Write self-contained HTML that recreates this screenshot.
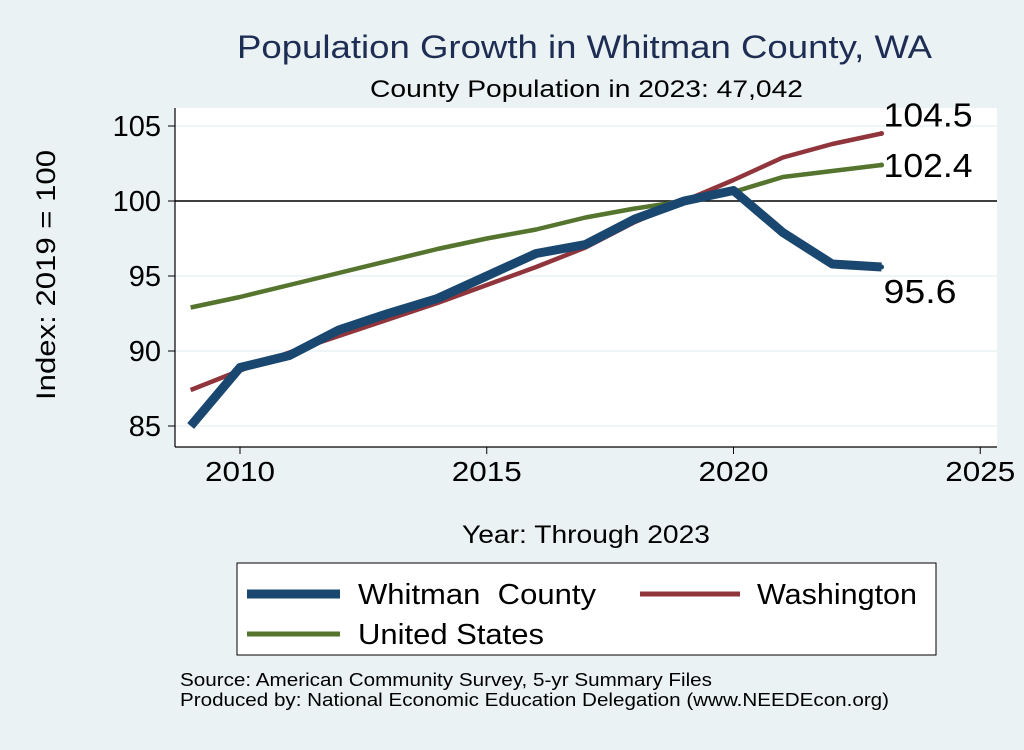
<!DOCTYPE html>
<html><head><meta charset="utf-8"><style>
body{margin:0;background:#eaf2f3;font-family:"Liberation Sans",sans-serif}
svg text{font-family:"Liberation Sans",sans-serif;white-space:pre}
</style></head><body>
<svg width="1024" height="745" xmlns="http://www.w3.org/2000/svg">
<rect width="1024" height="745" fill="#eaf2f3"/>
<text x="237" y="58" font-size="32" fill="#1e2d53" textLength="695" lengthAdjust="spacingAndGlyphs">Population Growth in Whitman County, WA</text>
<text x="370" y="97" font-size="24" fill="#000" textLength="433" lengthAdjust="spacingAndGlyphs">County Population in 2023: 47,042</text>
<rect x="175" y="108" width="822" height="339" fill="#fff"/>
<g id="grid"></g>
<line x1="175" y1="108" x2="175" y2="447" stroke="#000" stroke-width="1.2"/>
<line x1="175" y1="447" x2="997" y2="447" stroke="#000" stroke-width="1.2"/>
<g id="ticks"></g>
<g id="series"></g>
<text transform="translate(55,400) rotate(-90)" font-size="27" textLength="250" lengthAdjust="spacingAndGlyphs">Index: 2019 = 100</text>
<text x="462" y="543" font-size="25" textLength="248" lengthAdjust="spacingAndGlyphs">Year: Through 2023</text>
<g>
<rect x="237" y="563" width="699" height="92" fill="#fff" stroke="#000" stroke-width="1"/>
<line x1="247" y1="594" x2="340" y2="594" stroke="#1a476f" stroke-width="9"/>
<text x="358" y="604" font-size="29" textLength="238" lengthAdjust="spacingAndGlyphs">Whitman  County</text>
<line x1="640" y1="594" x2="740" y2="594" stroke="#90353b" stroke-width="5"/>
<text x="757" y="604" font-size="29" textLength="160" lengthAdjust="spacingAndGlyphs">Washington</text>
<line x1="247" y1="634" x2="340" y2="634" stroke="#55752f" stroke-width="5"/>
<text x="358" y="644" font-size="29" textLength="186" lengthAdjust="spacingAndGlyphs">United States</text>
</g>
<text x="180" y="686" font-size="18" textLength="532" lengthAdjust="spacingAndGlyphs">Source: American Community Survey, 5-yr Summary Files</text>
<text x="180" y="706" font-size="18" textLength="709" lengthAdjust="spacingAndGlyphs">Produced by: National Economic Education Delegation (www.NEEDEcon.org)</text>
</svg>
<script>
const years=[2009,2010,2011,2012,2013,2014,2015,2016,2017,2018,2019,2020,2021,2022,2023];
const whitman=[85.0,88.9,89.7,91.4,92.5,93.5,95.0,96.5,97.1,98.8,100.0,100.7,97.9,95.8,95.6];
const washington=[87.4,88.7,89.9,91.0,92.1,93.2,94.4,95.6,96.9,98.6,100.0,101.4,102.9,103.8,104.5];
const us=[92.9,93.6,94.4,95.2,96.0,96.8,97.5,98.1,98.9,99.5,100.0,100.6,101.6,102.0,102.4];
const xTicks=[2010,2015,2020,2025];
const yTicks=[85,90,95,100,105];
const NS="http://www.w3.org/2000/svg";
const X=y=>240+(y-2010)*49.35;
const Y=v=>201-(v-100)*15;
function mk(t,a,p){const e=document.createElementNS(NS,t);for(const k in a)e.setAttribute(k,a[k]);p.appendChild(e);return e;}
const grid=document.getElementById('grid'),ticks=document.getElementById('ticks'),ser=document.getElementById('series');
yTicks.forEach(v=>{
 const g=mk('line',{x1:175,x2:997,y1:Y(v),y2:Y(v),stroke:v===100?'#000':'#eaf2f3','stroke-width':1.5},grid);
 
 
 mk('line',{x1:168,x2:175,y1:Y(v),y2:Y(v),stroke:'#000'},ticks);
 const t=mk('text',{x:161,y:Y(v)+10,'font-size':29,'text-anchor':'end'},ticks);t.textContent=v;
 
 
});
xTicks.forEach(v=>{
 mk('line',{x1:X(v),x2:X(v),y1:447,y2:454,stroke:'#000'},ticks);
 const t=mk('text',{x:X(v),y:481,'font-size':28,'text-anchor':'middle',textLength:70,lengthAdjust:'spacingAndGlyphs'},ticks);t.textContent=v;
 
 
});
function line(vals,col,w,name){
 const p=mk('polyline',{points:vals.map((v,i)=>X(years[i])+','+Y(v)).join(' '),fill:'none',stroke:col,'stroke-width':w,'stroke-linejoin':'round'},ser);
 
 
}
line(us,'#55752f',4.5,'us-line');
line(washington,'#90353b',4.5,'washington-line');
line(whitman,'#1a476f',9,'whitman-line');
const n=years.length-1;
[[washington,'#90353b',-7,'washington-end-label',89],[us,'#55752f',12,'us-end-label',89],[whitman,'#1a476f',36,'whitman-end-label',73]].forEach(([a,c,dy,nm,w])=>{
 mk('circle',{cx:X(years[n]),cy:Y(a[n]),r:2.5,fill:c},ser);
 const t=mk('text',{x:X(years[n])+2,y:Y(a[n])+dy,'font-size':33,textLength:w,lengthAdjust:'spacingAndGlyphs'},ser);t.textContent=a[n].toFixed(1);
 
 
});
</script>
</body></html>
